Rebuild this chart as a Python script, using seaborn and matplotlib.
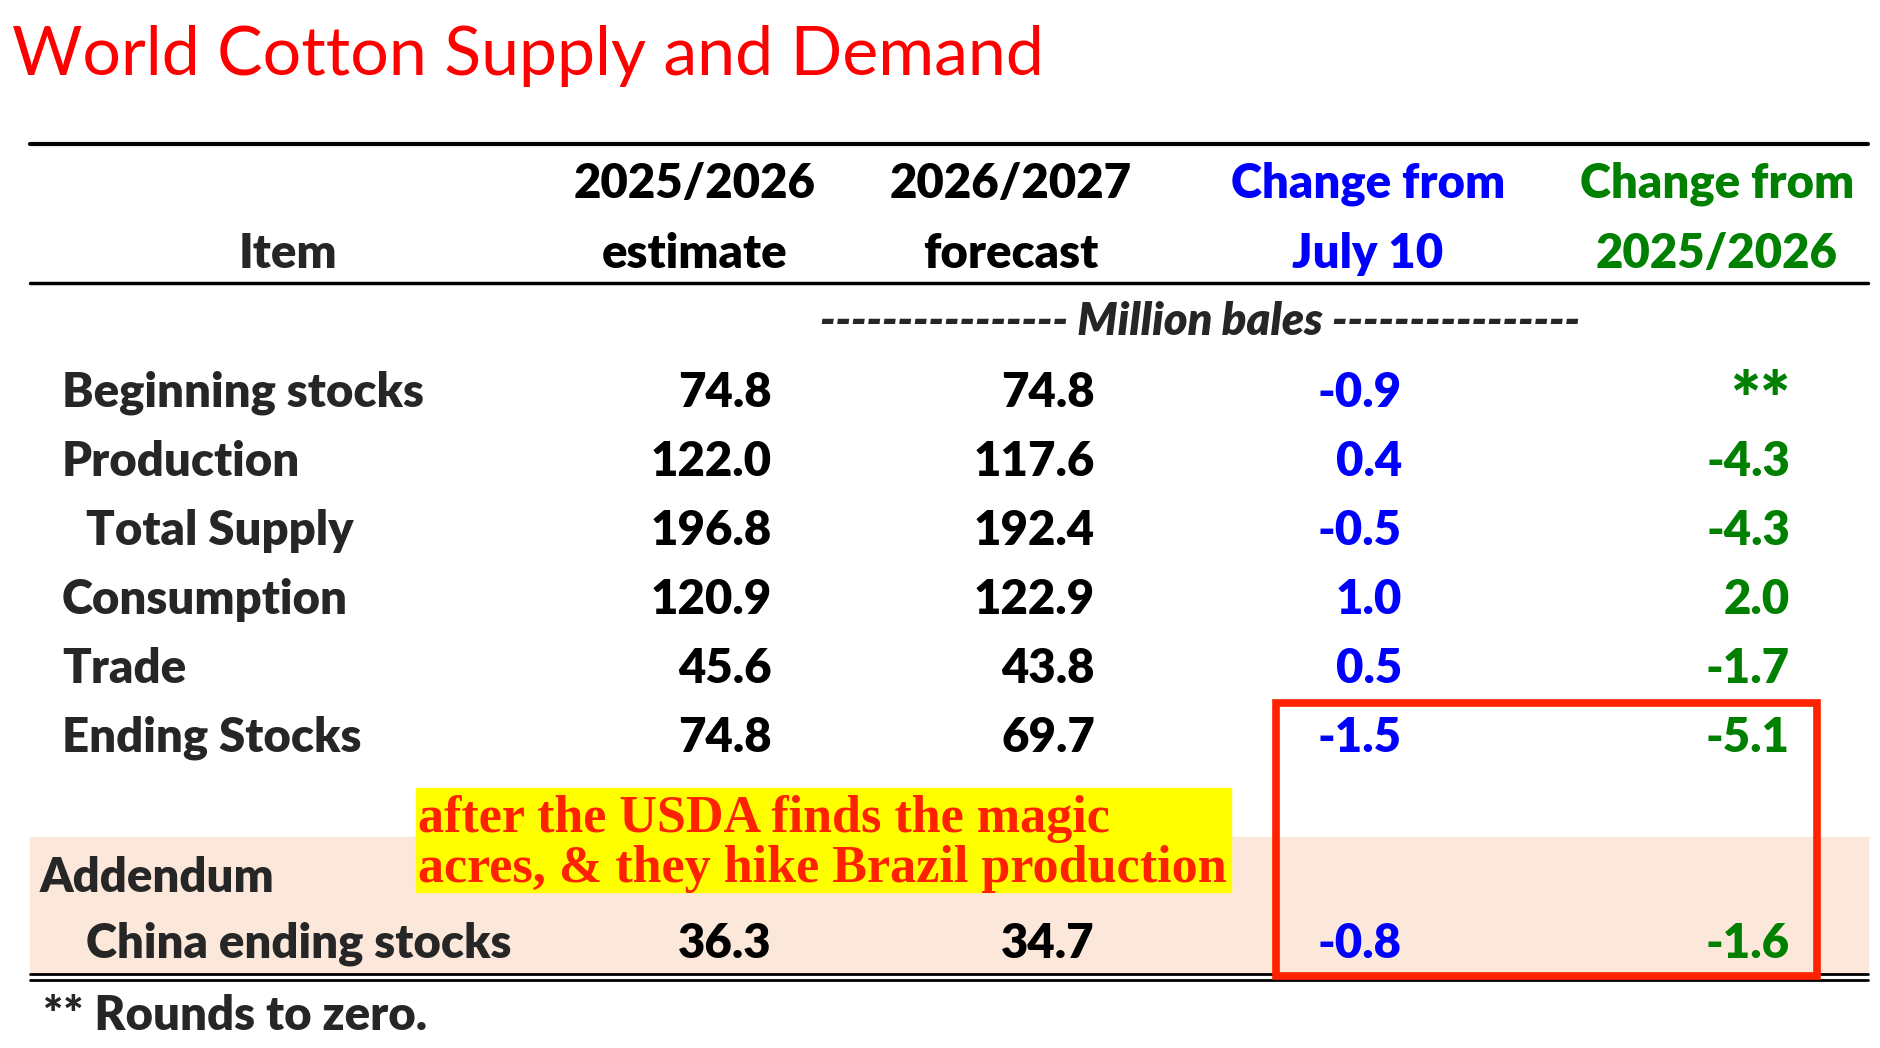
import matplotlib
matplotlib.use("Agg")
import matplotlib.pyplot as plt
import seaborn as sns
from matplotlib.patches import Rectangle

# Table values (million bales)
items = ["Beginning stocks", "Production", "Total Supply", "Consumption", "Trade", "Ending Stocks"]
indent = [False, False, True, False, False, False]
est_2526 = [74.8, 122.0, 196.8, 120.9, 45.6, 74.8]
fc_2627 = [74.8, 117.6, 192.4, 122.9, 43.8, 69.7]
chg_july = [-0.9, 0.4, -0.5, 1.0, 0.5, -1.5]
chg_year = [0.0, -4.3, -4.3, 2.0, -1.7, -5.1]

china_label = "China ending stocks"
china_vals = [36.3, 34.7, -0.8, -1.6]

headers = [("2025/2026", "estimate"), ("2026/2027", "forecast"),
           ("Change from", "July 10"), ("Change from", "2025/2026")]
note = "after the USDA finds the magic\nacres, & they hike Brazil production"

BLUE = "#0000FF"
GREEN = "#008000"
PEACH = "#FCE8DA"


def fmt(v):
    return "**" if abs(v) < 0.05 else f"{v:.1f}"


def main():
    sns.set_theme(style="white")
    plt.rcParams["font.family"] = ["Lato", "DejaVu Sans"]

    fig = plt.figure(figsize=(18.8, 10.48), dpi=100)
    ax = fig.add_axes([0, 0, 1, 1])
    ax.set_xlim(0, 1880)
    ax.set_ylim(1048, 0)
    ax.axis("off")

    fs = 34
    wt = "heavy"
    col_right = [772, 1095, 1402, 1790]
    col_center = [695, 1011, 1368, 1717]
    col_color = ["black", "black", BLUE, GREEN]

    def cell(x, y, v, c):
        s = fmt(v)
        if s == "**":
            # asterisks sit high in Lato, draw them larger and lower
            ax.text(x, y + 10, s, fontsize=fs * 1.5, fontweight=wt, color=c,
                    ha="right", va="center")
        else:
            ax.text(x, y, s, fontsize=fs, fontweight=wt, color=c,
                    ha="right", va="center")

    # title
    ax.text(12, 56, "World Cotton Supply and Demand", color="#FF0000",
            fontsize=49, ha="left", va="center")

    # rules
    ax.plot([30, 1868], [144, 144], color="black", lw=3)
    ax.plot([30, 1868], [283, 283], color="black", lw=2.5)

    # header
    ax.text(288, 254, "Item", fontsize=fs, fontweight=wt, ha="center", va="center")
    for (h1, h2), cx, c in zip(headers, col_center, col_color):
        ax.text(cx, 184, h1, fontsize=fs, fontweight=wt, color=c, ha="center", va="center")
        ax.text(cx, 254, h2, fontsize=fs, fontweight=wt, color=c, ha="center", va="center")

    ax.text(1200, 322, "---------------- Million bales ----------------",
            fontsize=32.5, fontweight=wt, style="italic", ha="center", va="center")

    # body rows
    y0, step = 393, 69
    for i, name in enumerate(items):
        y = y0 + i * step
        ax.text(86 if indent[i] else 62, y, name, fontsize=fs, fontweight=wt,
                ha="left", va="center")
        row = [est_2526[i], fc_2627[i], chg_july[i], chg_year[i]]
        for v, xr, c in zip(row, col_right, col_color):
            cell(xr, y, v, c)

    # addendum band
    ax.add_patch(Rectangle((30, 837), 1838, 137, color=PEACH, zorder=0))
    ax.text(40, 878, "Addendum", fontsize=fs, fontweight=wt, ha="left", va="center")
    ax.text(86, 944, china_label, fontsize=fs, fontweight=wt, ha="left", va="center")
    for v, xr, c in zip(china_vals, col_right, col_color):
        cell(xr, 944, v, c)

    ax.plot([30, 1868], [974, 974], color="black", lw=2)
    ax.plot([30, 1868], [980, 980], color="black", lw=2)

    ax.text(43, 1016, "** Rounds to zero.", fontsize=fs, fontweight=wt,
            ha="left", va="center")

    # yellow note
    ax.add_patch(Rectangle((416, 788), 815, 104, color="#FFFF00", zorder=1))
    ax.text(418, 844, note, fontsize=37.5, fontweight="bold", color="#FF2200",
            family=["Liberation Serif", "DejaVu Serif"], ha="left", va="center",
            linespacing=1.03, zorder=2)

    # red highlight box
    ax.add_patch(Rectangle((1276, 703), 541, 273, fill=False, edgecolor="#FF2200",
                           lw=5.5, zorder=3))

    fig.savefig("out.png", dpi=100)
    plt.close(fig)


if __name__ == "__main__":
    main()
